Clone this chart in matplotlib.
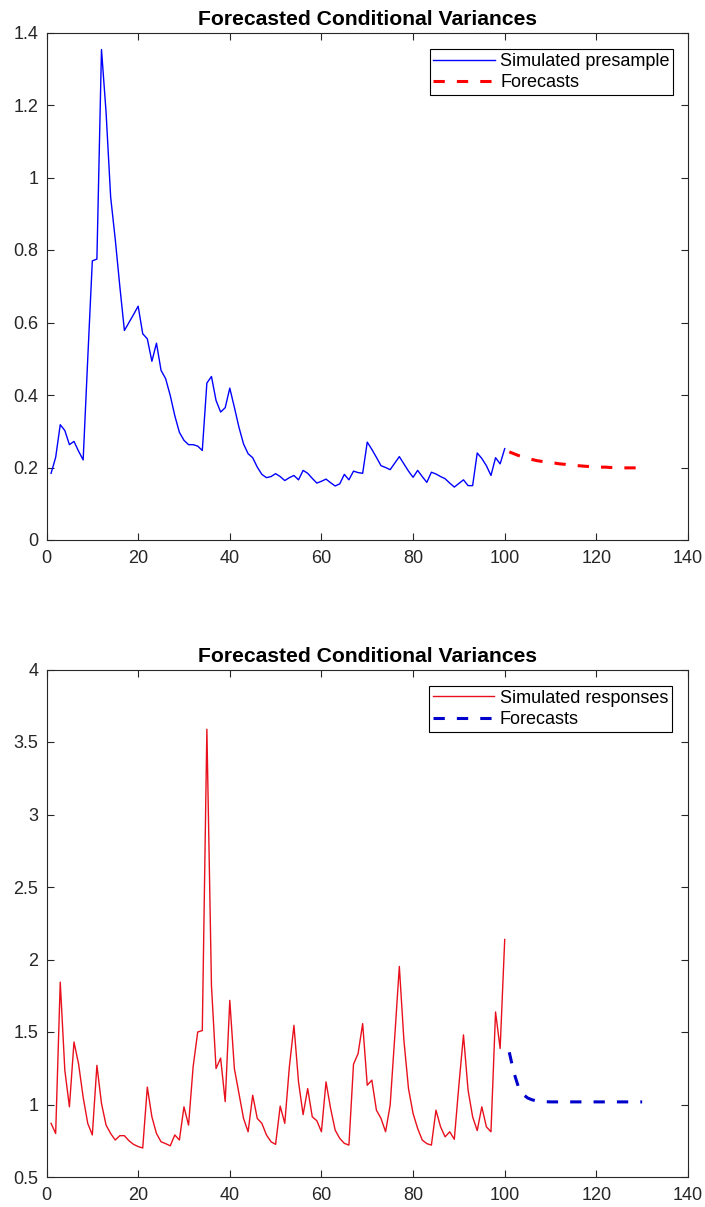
import matplotlib.pyplot as plt
from matplotlib.ticker import FuncFormatter

# presample period and forecast horizon
t_pre = list(range(1, 101))
t_fc = list(range(101, 131))

# top panel: simulated presample conditional variances
v_presample = [
    0.184, 0.228, 0.318, 0.302, 0.263, 0.272, 0.245, 0.221, 0.500, 0.770,
    0.775, 1.353, 1.180, 0.946, 0.830, 0.700, 0.578, 0.600, 0.622, 0.645,
    0.569, 0.555, 0.493, 0.543, 0.468, 0.445, 0.399, 0.343, 0.297, 0.275,
    0.263, 0.263, 0.259, 0.247, 0.433, 0.451, 0.385, 0.353, 0.365, 0.419,
    0.366, 0.311, 0.265, 0.238, 0.227, 0.201, 0.181, 0.172, 0.175, 0.183,
    0.175, 0.164, 0.172, 0.178, 0.166, 0.192, 0.184, 0.170, 0.157, 0.162,
    0.168, 0.158, 0.149, 0.155, 0.181, 0.166, 0.190, 0.186, 0.184, 0.270,
    0.250, 0.228, 0.205, 0.200, 0.194, 0.212, 0.230, 0.210, 0.190, 0.173,
    0.192, 0.175, 0.159, 0.187, 0.182, 0.175, 0.169, 0.157, 0.146, 0.156,
    0.166, 0.150, 0.150, 0.240, 0.225, 0.205, 0.178, 0.227, 0.210, 0.252,
]
v_fc_top = [
    0.243, 0.238, 0.233, 0.229, 0.225, 0.222, 0.219, 0.217, 0.215, 0.213,
    0.212, 0.210, 0.209, 0.207, 0.206, 0.205, 0.204, 0.203, 0.203, 0.202,
    0.201, 0.201, 0.200, 0.200, 0.200, 0.199, 0.199, 0.199, 0.199, 0.199,
]

# bottom panel: simulated responses
v_responses = [
    0.870, 0.800, 1.844, 1.236, 0.984, 1.431, 1.280, 1.050, 0.870, 0.790,
    1.270, 1.007, 0.858, 0.800, 0.755, 0.785, 0.785, 0.750, 0.725, 0.710,
    0.700, 1.120, 0.915, 0.800, 0.743, 0.730, 0.715, 0.790, 0.755, 0.984,
    0.858, 1.260, 1.500, 1.510, 3.588, 1.820, 1.248, 1.320, 1.020, 1.718,
    1.248, 1.076, 0.904, 0.812, 1.064, 0.904, 0.870, 0.790, 0.743, 0.725,
    0.989, 0.870, 1.259, 1.546, 1.156, 0.930, 1.110, 0.915, 0.888, 0.812,
    1.156, 0.973, 0.823, 0.766, 0.732, 0.720, 1.278, 1.351, 1.558, 1.133,
    1.168, 0.961, 0.904, 0.812, 0.996, 1.466, 1.952, 1.443, 1.110, 0.938,
    0.835, 0.755, 0.730, 0.720, 0.961, 0.846, 0.777, 0.812, 0.760, 1.133,
    1.480, 1.100, 0.915, 0.820, 0.984, 0.846, 0.812, 1.638, 1.386, 2.138,
]
v_fc_bottom = [
    1.360, 1.220, 1.120, 1.070, 1.045, 1.032, 1.025, 1.021, 1.019, 1.018,
    1.018, 1.018, 1.018, 1.018, 1.018, 1.018, 1.018, 1.018, 1.018, 1.018,
    1.018, 1.018, 1.018, 1.018, 1.018, 1.018, 1.018, 1.018, 1.018, 1.018,
]

plt.rcParams["font.family"] = ["Liberation Sans", "DejaVu Sans"]

W, H = 705, 1207
fig = plt.figure(figsize=(W / 100, H / 100), dpi=100)

ax_color = "#262626"
dash = (0, (3.7, 3.95))


def g_fmt(v, pos):
    return "%g" % round(v, 3)


def style_axes(ax, ylim, yticks):
    ax.set_xlim(0, 140)
    ax.set_ylim(*ylim)
    ax.set_xticks(range(0, 141, 20))
    ax.set_yticks(yticks)
    ax.yaxis.set_major_formatter(FuncFormatter(g_fmt))
    ax.tick_params(
        direction="in", length=5, width=0.8, colors=ax_color,
        labelsize=13, top=True, right=True,
    )
    ax.tick_params(axis="x", pad=7)
    ax.tick_params(axis="y", pad=6)
    for s in ax.spines.values():
        s.set_color(ax_color)
        s.set_linewidth(0.8)
    ax.set_title(
        "Forecasted Conditional Variances",
        fontsize=15.2, fontweight="bold", pad=5.5,
    )


def add_legend(ax, right, top):
    leg = ax.legend(
        loc="upper right",
        bbox_to_anchor=(right / W, 1 - top / H),
        bbox_transform=fig.transFigure,
        borderaxespad=0, fontsize=13, frameon=True, fancybox=False,
        edgecolor="black", framealpha=1, handlelength=3.4,
        handletextpad=0.3, labelspacing=0.25, borderpad=0.2,
    )
    leg.get_frame().set_linewidth(0.8)


# top panel
ax1 = fig.add_axes([46.5 / W, 1 - 540 / H, (688 - 46.5) / W, (540 - 32.5) / H])
ax1.plot(t_pre, v_presample, color="b", linewidth=1.0, label="Simulated presample")
ax1.plot(t_fc, v_fc_top, color="r", linewidth=2.2, linestyle=dash, label="Forecasts")
style_axes(ax1, (0, 1.4), [0, 0.2, 0.4, 0.6, 0.8, 1.0, 1.2, 1.4])
add_legend(ax1, 673.3, 49.3)

# bottom panel
ax2 = fig.add_axes([46.5 / W, 1 - 1177 / H, (688 - 46.5) / W, (1177 - 669.5) / H])
ax2.plot(t_pre, v_responses, color="#e8101c", linewidth=1.0, label="Simulated responses")
ax2.plot(t_fc, v_fc_bottom, color="#0000cc", linewidth=2.2, linestyle=dash, label="Forecasts")
style_axes(ax2, (0.5, 4), [0.5, 1, 1.5, 2, 2.5, 3, 3.5, 4])
add_legend(ax2, 671.7, 686)

plt.savefig("out.png", dpi=100, facecolor="white")
